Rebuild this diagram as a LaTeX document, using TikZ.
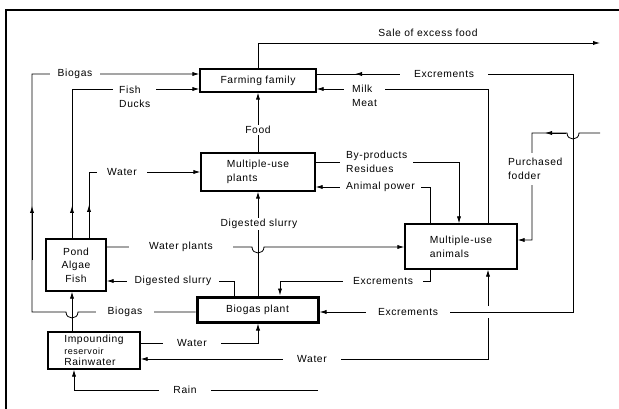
\documentclass[tikz,border=0pt]{standalone}
\usepackage{fontspec}
\setmainfont{Liberation Sans}[LetterSpace=6]
\usetikzlibrary{arrows.meta}
\begin{document}
\begin{tikzpicture}[x=1pt,y=-1pt, font=\fontsize{10.3}{14}\selectfont,
  box/.style={draw, line width=1.3pt, fill=white, inner sep=2pt, align=center},
  lbl/.style={fill=white, inner sep=1pt, inner xsep=8pt, align=left},
  conn/.style={line width=0.8pt},
  arr/.style={conn, -{Latex[length=7pt,width=4.2pt]}},
  arrboth/.style={conn, {Latex[length=7pt,width=4.2pt]}-{Latex[length=7pt,width=4.2pt]}}]
\useasboundingbox (0,0) rectangle (619,409);
% frame
\draw[line width=1.4pt] (6,409) -- (6,10) -- (619,10);
% boxes
\node[box, minimum width=116pt, minimum height=23pt] (fam) at (258,80.5) {Farming family};
\node[box, align=left, minimum width=114pt, minimum height=38pt] (plants) at (258,172) {Multiple-use\\plants};
\node[box, minimum width=60pt, minimum height=52pt, font=\fontsize{10.3}{13.5}\selectfont] (pond) at (76,265) {Pond\\Algae\\Fish};
\node[box, line width=3pt, minimum width=121pt, minimum height=25pt] (bgp) at (257.5,309.5) {Biogas plant};
\node[box, align=left, minimum width=112pt, minimum height=45pt] (anim) at (461,246.5) {Multiple-use\\animals};
\node[box, align=left, minimum width=92pt, minimum height=37pt, font=\fontsize{10.3}{11.5}\selectfont] (res) at (94,350.5) {Impounding\\{\fontsize{9}{11.5}\selectfont reservoir}\\Rainwater};
% free ends
\coordinate (saleEnd) at (600,43);
\coordinate (buyStart) at (600,133);
\coordinate (rainStart) at (318,390);
% connectors
\draw[arr] (fam.north) |- (saleEnd);
\draw[arr] (bgp.west |- 0,312) -- (78,312) .. controls (78,320) and (66,320) .. (66,312) -- (32,312) -- (32,74) -- (fam.west |- 0,74);
\draw[arr] (32,260) -- (32,206);
\draw[arr] (pond.north -| 72,0) -- (72,89) -- (fam.west |- 0,89);
\draw[arr] (72,236) -- (72,206);
\draw[arr] (pond.north -| 89,0) |- (plants.west |- 0,172);
\draw[arr] (89,236) -- (89,205);
\draw[arr] (plants.north) -- (fam.south);
\draw[arr] (anim.north -| 488,0) -- (488,89) -- (fam.east |- 0,89);
\draw[arr] (fam.east |- 0,74) -- (573,74) -- (573,312) -- (bgp.east |- 0,312);
\draw[arr] (390,74) -- (355,74);
\draw[arr] (buyStart) -- (579,133) .. controls (579,141) and (567,141) .. (567,133) -- (532,133) -- (532,240) -- (anim.east |- 0,240);
\draw[arr] (566,133) -- (545,133);
\draw[arr] (plants.east |- 0,162) -- (459,162) -- (anim.north -| 459,0);
\draw[arr] (anim.north -| 430,0) -- (430,187) -- (plants.east |- 0,187);
\draw[arr] (bgp.north -| 258,0) -- (plants.south);
\draw[arr] (pond.east |- 0,247) -- (252,247) .. controls (252,255) and (264,255) .. (264,247) -- (anim.west |- 0,247);
\draw[arr] (bgp.north -| 234,0) |- (pond.east |- 0,281);
\draw[arr] (anim.south -| 430,0) |- (280,281) -- (bgp.north -| 280,0);
\draw[arr] (488,306) -- (anim.south -| 488,0);
\draw[arr] (488,318) -- (488,359) -- (res.east |- 0,359);
\draw[arr] (res.east |- 0,343) -| (bgp.south -| 258,0);
\draw[arr] (rainStart) -| (res.south -| 74,0);
\draw[arr] (res.north -| 72,0) -- (pond.south -| 72,0);
% labels
\node[lbl] (tSale) at (428,33) {Sale of excess food};
\node[lbl] (tBio1) at (75,74) {Biogas};
\node[lbl, anchor=west, inner xsep=6pt] (tFish) at (113,97) {Fish\\Ducks};
\node[lbl] (tFood) at (258,130) {Food};
\node[lbl, anchor=west] (tMilk) at (344,96) {Milk\\Meat};
\node[lbl, inner xsep=14pt] (tExc1) at (444,74) {Excrements};
\node[lbl, inner xsep=10pt] (tWat1) at (122,172) {Water};
\node[lbl, anchor=west, inner xsep=6pt] (tByp) at (340,162) {By-products\\Residues};
\node[lbl, anchor=west, inner xsep=6pt] (tPow) at (340,187) {Animal power};
\node[lbl, anchor=west, inner xsep=2pt, inner ysep=5pt] (tBuy) at (506,169) {Purchased\\fodder};
\node[lbl] (tSl1) at (259,224) {Digested slurry};
\node[lbl, inner xsep=20pt] (tWpl) at (181,247) {Water plants};
\node[lbl] (tSl2) at (173,281) {Digested slurry};
\node[lbl, inner xsep=10pt] (tExc2) at (383,281) {Excrements};
\node[lbl, inner xsep=12pt] (tBio2) at (125,312) {Biogas};
\node[lbl, inner xsep=12pt] (tExc3) at (408,312) {Excrements};
\node[lbl, inner xsep=14pt] (tWat2) at (192,343) {Water};
\node[lbl, inner xsep=14pt] (tWat3) at (312,359) {Water};
\node[lbl, inner xsep=14pt] (tRain) at (185,390) {Rain};
\end{tikzpicture}
\end{document}
